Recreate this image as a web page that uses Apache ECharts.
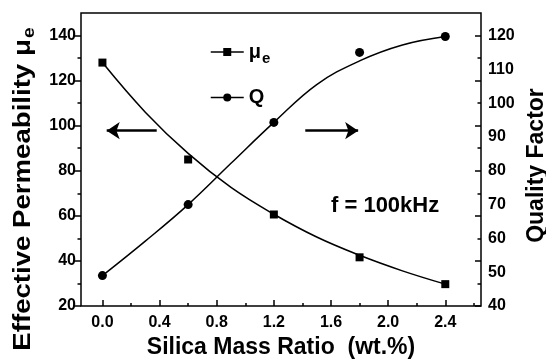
<!DOCTYPE html>
<html>
<head>
<meta charset="utf-8">
<script src="https://cdn.jsdelivr.net/npm/echarts@6/dist/echarts.min.js"></script>
<style>
html,body{margin:0;padding:0;background:#fff;}
#chart{width:546px;height:360px;}
</style>
</head>
<body>
<div id="chart"></div>
<script>
// measured data points
const xVals = [0, 0.6, 1.2, 1.8, 2.4];
const muVals = [128, 85, 60.6, 41.6, 29.7];
const qVals = [49, 70, 94.3, 115, 119.7];
// fitted curves
const fitX = [0, 0.3, 0.6, 0.9, 1.2, 1.5, 1.8, 2.1, 2.4];
const muFit = [128, 106, 87.7, 72.6, 60.7, 50.6, 42.5, 35.6, 29.7];
const qFit = [49, 59.2, 70, 82.2, 94.3, 105.5, 112.5, 117.2, 119.7];
// tick labels / positions
const xMajor = [0, 0.4, 0.8, 1.2, 1.6, 2.0, 2.4];
const xMinor = [0.2, 0.6, 1.0, 1.4, 1.8, 2.2, 2.6];
const leftMajor = [20, 40, 60, 80, 100, 120, 140];
const leftMinor = [30, 50, 70, 90, 110, 130];
const rightLabels = [40, 50, 60, 70, 80, 90, 100, 110, 120];
// arrows (data coords on left axis)
const arrowLeft = [[0.38, 97.8], [0.03, 97.8]];
const arrowRight = [[1.42, 97.8], [1.79, 97.8]];

const FONT = '"Liberation Sans", Arial, sans-serif';
const lbl = {fontFamily: FONT, fontWeight: 'bold', fontSize: 16, color: '#000'};
const noLine = {show: false, onZero: false};

const pair = (xs, ys) => xs.map((x, i) => [x, ys[i]]);

const chart = echarts.init(document.getElementById('chart'), null, {renderer: 'canvas'});
chart.setOption({
  animation: false,
  backgroundColor: '#fff',
  grid: {
    left: 81, right: 65, top: 13, bottom: 54, containLabel: false, outerBoundsMode: 'none',
    show: true, borderColor: '#000', borderWidth: 1.5, backgroundColor: 'transparent'
  },
  xAxis: [
    {
      type: 'value', min: -0.15, max: 2.65, position: 'bottom',
      axisLine: noLine, splitLine: {show: false},
      axisTick: {show: true, inside: true, length: 6, lineStyle: {color: '#000', width: 1.5}, customValues: xMajor},
      axisLabel: Object.assign({margin: 9, customValues: xMajor, formatter: v => v.toFixed(1)}, lbl),
      name: 'Silica Mass Ratio  (wt.%)', nameLocation: 'middle', nameGap: 30,
      nameTextStyle: {fontFamily: FONT, fontWeight: 'bold', fontSize: 23, color: '#000'}
    },
    {
      type: 'value', min: -0.15, max: 2.65, position: 'bottom', offset: 0,
      axisLine: noLine, splitLine: {show: false}, axisLabel: {show: false},
      axisTick: {show: true, inside: true, length: 3, lineStyle: {color: '#000', width: 1.5}, customValues: xMinor}
    }
  ],
  yAxis: [
    {
      type: 'value', min: 20, max: 150, position: 'left',
      axisLine: noLine, splitLine: {show: false},
      axisTick: {show: true, inside: false, length: 6, lineStyle: {color: '#000', width: 1.5}, customValues: leftMajor},
      axisLabel: Object.assign({margin: 5, customValues: leftMajor}, lbl)
    },
    {
      type: 'value', min: 20, max: 150, position: 'left', offset: 0,
      axisLine: noLine, splitLine: {show: false}, axisLabel: {show: false},
      axisTick: {show: true, inside: false, length: 3.5, lineStyle: {color: '#000', width: 1.5}, customValues: leftMinor}
    },
    {
      type: 'value', min: 40, max: 126.6667, position: 'right', offset: 0,
      axisLine: noLine, splitLine: {show: false}, axisTick: {show: false},
      axisLabel: Object.assign({margin: 7, customValues: rightLabels}, lbl),
      name: 'Quality Factor', nameLocation: 'middle', nameGap: 39,
      nameTextStyle: {fontFamily: FONT, fontWeight: 'bold', fontSize: 23, color: '#000', padding: [0, 12, 0, 0]}
    },
    {
      type: 'value', min: 20, max: 150, position: 'right', offset: 0,
      axisLine: noLine, splitLine: {show: false}, axisLabel: {show: false},
      axisTick: {show: true, inside: true, length: 6, lineStyle: {color: '#000', width: 1.5}, customValues: leftMajor}
    },
    {
      type: 'value', min: 20, max: 150, position: 'right', offset: 0,
      axisLine: noLine, splitLine: {show: false}, axisLabel: {show: false},
      axisTick: {show: true, inside: true, length: 3.5, lineStyle: {color: '#000', width: 1.5}, customValues: leftMinor}
    }
  ],
  legend: {
    orient: 'vertical', left: 205, top: 37, itemWidth: 33, itemHeight: 10, itemGap: 21,
    selectedMode: false,
    data: [
      {name: 'μe', lineStyle: {color: '#000', width: 1.5, opacity: 1}},
      {name: 'Q', lineStyle: {color: '#000', width: 1.5, opacity: 1}}
    ],
    formatter: n => n === 'μe' ? '{m|μ}{s|e}' : '{m|Q}',
    textStyle: {
      rich: {
        m: {fontFamily: FONT, fontWeight: 'bold', fontSize: 20, color: '#000', lineHeight: 22},
        s: {fontFamily: FONT, fontWeight: 'bold', fontSize: 15, color: '#000', padding: [14, 0, 0, 1]}
      }
    }
  },
  graphic: [
    {type: 'text', left: 331, top: 195, style: {text: 'f = 100kHz', fontFamily: FONT, fontWeight: 'bold', fontSize: 22, fill: '#000'}},
    {
      type: 'text', x: 24, y: 189, rotation: Math.PI / 2, scaleX: 1.2,
      style: {
        text: '{m|Effective Permeability μ}{s|e}', align: 'center', verticalAlign: 'middle',
        rich: {
          m: {fontFamily: FONT, fontWeight: 'bold', fontSize: 23, fill: '#000'},
          s: {fontFamily: FONT, fontWeight: 'bold', fontSize: 16, fill: '#000', padding: [12, 0, 0, 1]}
        }
      }
    }
  ],
  series: [
    {
      name: 'μe fit', type: 'line', xAxisIndex: 0, yAxisIndex: 0, smooth: 0.4, showSymbol: false, symbol: 'none',
      data: pair(fitX, muFit), lineStyle: {color: '#000', width: 1.5}, silent: true, z: 2
    },
    {
      name: 'Q fit', type: 'line', xAxisIndex: 0, yAxisIndex: 2, smooth: 0.4, showSymbol: false, symbol: 'none',
      data: pair(fitX, qFit), lineStyle: {color: '#000', width: 1.5}, silent: true, z: 2
    },
    {
      name: 'μe', type: 'line', xAxisIndex: 0, yAxisIndex: 0, symbol: 'rect', symbolSize: 8,
      data: pair(xVals, muVals), lineStyle: {opacity: 0}, itemStyle: {color: '#000'}, z: 3,
      markLine: {
        silent: true, symbol: ['none', 'arrow'], symbolSize: 13,
        label: {show: false},
        lineStyle: {color: '#000', width: 2.5, type: 'solid'},
        data: [
          [{coord: arrowLeft[0]}, {coord: arrowLeft[1]}],
          [{coord: arrowRight[0]}, {coord: arrowRight[1]}]
        ]
      }
    },
    {
      name: 'Q', type: 'line', xAxisIndex: 0, yAxisIndex: 2, symbol: 'circle', symbolSize: 9,
      data: pair(xVals, qVals), lineStyle: {opacity: 0}, itemStyle: {color: '#000'}, z: 3
    }
  ]
});
</script>
</body>
</html>
